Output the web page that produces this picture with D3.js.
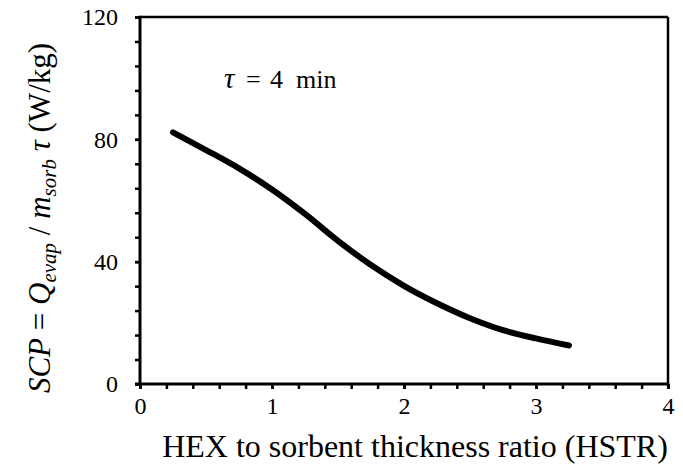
<!DOCTYPE html>
<html>
<head>
<meta charset="utf-8">
<script src="https://cdn.jsdelivr.net/npm/d3@7/dist/d3.min.js"></script>
<style>
  html, body { margin: 0; padding: 0; background: #fff; }
</style>
</head>
<body>
<svg id="chart" width="683" height="468"></svg>
<script>
// HSTR values and the specific cooling power at each
const hstr = [0.25, 0.5, 0.75, 1.0, 1.25, 1.5, 1.75, 2.0, 2.25, 2.5, 2.75, 3.0, 3.25];
const scp  = [82.3, 76.5, 70.5, 63.6, 55.6, 46.8, 38.9, 32.1, 26.4, 21.5, 17.6, 14.9, 12.6];

const xMajorTicks = [0, 1, 2, 3, 4];
const yMajorTicks = [0, 40, 80, 120];
const xMinorStep = 0.2;
const yMinorStep = 8;

const SERIF = "Liberation Serif";

const svg = d3.select("#chart");
const margin = { left: 140, top: 17, right: 15, bottom: 84 };
const W = 683, H = 468;

const x = d3.scaleLinear().domain([0, 4]).range([margin.left, W - margin.right]);
const y = d3.scaleLinear().domain([0, 120]).range([H - margin.bottom, margin.top]);

const xMinor = d3.range(0, 4 + 1e-9, xMinorStep);
const yMinor = d3.range(0, 120 + 1e-9, yMinorStep);

// frame (top and right edges)
svg.append("line")
  .attr("x1", x(0)).attr("x2", x(4)).attr("y1", y(120)).attr("y2", y(120))
  .attr("stroke", "#000").attr("stroke-width", 2.5);
svg.append("line")
  .attr("x1", x(4)).attr("x2", x(4)).attr("y1", y(0)).attr("y2", y(120))
  .attr("stroke", "#000").attr("stroke-width", 2.5);

// bottom axis: minor ticks, then labels on majors
const gx = svg.append("g").attr("transform", `translate(0,${y(0)})`)
  .call(d3.axisBottom(x).tickValues(xMinor).tickSize(5).tickFormat(""));
const gxLab = svg.append("g").attr("transform", `translate(0,${y(0)})`)
  .call(d3.axisBottom(x).tickValues(xMajorTicks).tickSize(5).tickPadding(8).tickFormat(d3.format("d")));

// left axis
const gy = svg.append("g").attr("transform", `translate(${x(0)},0)`)
  .call(d3.axisLeft(y).tickValues(yMinor).tickSize(5).tickFormat(""));
const gyLab = svg.append("g").attr("transform", `translate(${x(0)},0)`)
  .call(d3.axisLeft(y).tickValues(yMajorTicks).tickSize(5).tickPadding(17).tickFormat(d3.format("d")));

[gx, gxLab, gy, gyLab].forEach(g => {
  g.attr("font-family", SERIF).attr("font-size", 24);
  g.select(".domain").attr("stroke", "#000").attr("stroke-width", 3);
  g.selectAll(".tick line").attr("stroke", "#000").attr("stroke-width", 2.5);
  g.selectAll(".tick text").attr("fill", "#000");
});
gxLab.select(".domain").remove();
gyLab.select(".domain").remove();
gy.select(".domain").attr("d", `M0,${y(0) + 1.5}V${y(120) - 1.2}`);
gx.select(".domain").attr("d", `M${x(0) - 5},0H${x(4) + 1.2}`);

// SCP curve
const pts = hstr.map((d, i) => [d, scp[i]]);
svg.append("path")
  .datum(pts)
  .attr("fill", "none")
  .attr("stroke", "#000")
  .attr("stroke-width", 6)
  .attr("stroke-linecap", "round")
  .attr("stroke-linejoin", "round")
  .attr("d", d3.line().x(d => x(d[0])).y(d => y(d[1])).curve(d3.curveCatmullRom.alpha(0.5)));

// cycle time annotation, equation-style spacing
const ann = svg.append("text")
  .attr("y", 88)
  .attr("font-family", SERIF)
  .attr("font-size", 26);
ann.append("tspan").attr("x", 224).attr("font-style", "italic").attr("font-size", 29).text("τ");
ann.append("tspan").attr("x", 246).text("=");
ann.append("tspan").attr("x", 270).text("4");
ann.append("tspan").attr("x", 296).text("min");

// x title
svg.append("text")
  .attr("x", 415).attr("y", 457)
  .attr("text-anchor", "middle")
  .attr("font-family", SERIF)
  .attr("font-size", 32)
  .text("HEX to sorbent thickness ratio (HSTR)");

// y title
const yt = svg.append("text")
  .attr("transform", `translate(50,218) rotate(-90)`)
  .attr("text-anchor", "middle")
  .attr("font-family", SERIF)
  .attr("font-size", 31);
yt.append("tspan").attr("font-style", "italic").text("SCP");
yt.append("tspan").text(" = ");
yt.append("tspan").attr("font-style", "italic").text("Q");
yt.append("tspan").attr("font-style", "italic").attr("font-size", 21).attr("dy", 6).text("evap");
yt.append("tspan").attr("dy", -6).text("  /  ");
yt.append("tspan").attr("font-style", "italic").text("m");
yt.append("tspan").attr("font-style", "italic").attr("font-size", 21).attr("dy", 6).text("sorb");
yt.append("tspan").attr("font-style", "italic").attr("dy", -6).text(" τ");
yt.append("tspan").text(" (W/kg)");
</script>
</body>
</html>
